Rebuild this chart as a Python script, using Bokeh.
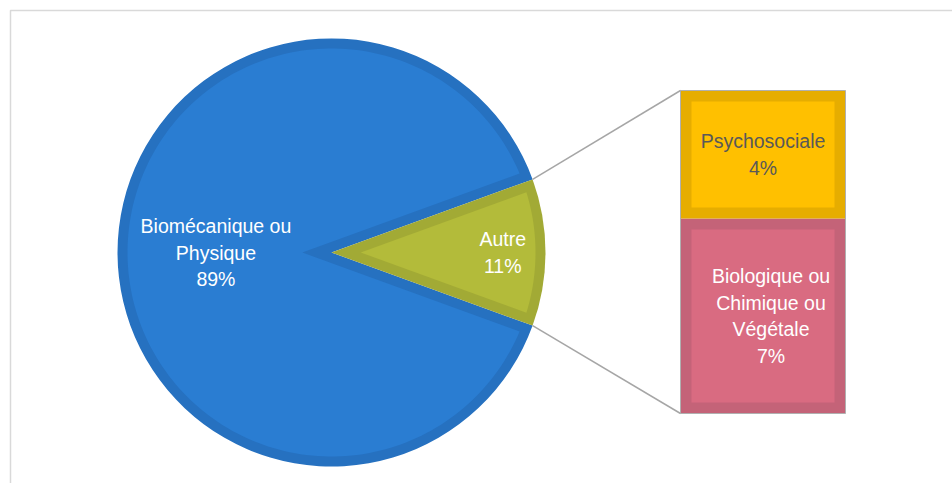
import numpy as np
from bokeh.plotting import figure
from bokeh.models import Range1d
from bokeh.core.properties import value
from bokeh.embed import file_html
from bokeh.resources import INLINE

# ---------------- data ----------------
main_label = "Biomécanique ou\nPhysique"
main_value = 88.9
other_label = "Autre"
detail_labels = ["Biologique ou\nChimique ou\nVégétale", "Psychosociale"]  # stacked bottom -> top
detail_values = [6.7, 4.4]

# ---------------- styles ----------------
W, H = 952, 483
FONT = "Liberation Sans"
FS = "19.5px"
LH = 26.7
blue_fill, blue_dark = "#2A7DD2", "#2671C0"
green_fill, green_dark = "#B3BB3A", "#A2AA35"
detail_fill = ["#D96B81", "#FFC000"]
detail_dark = ["#C46378", "#E6AD00"]
detail_text = ["white", "#595959"]
conn_color = "#A6A6A6"

p = figure(width=W, height=H, x_range=Range1d(0, W), y_range=Range1d(0, H),
           output_backend="svg", toolbar_location=None, min_border=0)
p.axis.visible = False
p.grid.visible = False
p.outline_line_color = None
p.background_fill_color = "white"
p.border_fill_color = "white"

# outer chart border
p.quad(left=[10], right=[W + 20], top=[H - 10], bottom=[-20], fill_color=None,
       line_color="#D9D9D9", line_width=1.5)

# ---------------- pie ----------------
cx, cy, R, d = 331.0, 231.0, 214.0, 10.0
other_value = sum(detail_values)
half = np.pi * other_value / 100.0
slices = [
    (main_label, main_value, half, 2 * np.pi - half, blue_fill, blue_dark, 0.54, "white"),
    (other_label, other_value, -half, half, green_fill, green_dark, 0.80, "white"),
]


def inset_poly(a1, a2):
    span = a2 - a1
    mid = (a1 + a2) / 2
    apex_dist = d / np.sin(span / 2)
    px_, py_ = cx + apex_dist * np.cos(mid), cy + apex_dist * np.sin(mid)
    s = np.sqrt((R - d) ** 2 - d ** 2)
    delta = np.arctan2(d, s)
    angs = np.linspace(a1 + delta, a2 - delta, 200)
    xs = [px_] + list(cx + (R - d) * np.cos(angs)) + [px_]
    ys = [py_] + list(cy + (R - d) * np.sin(angs)) + [py_]
    return xs, ys


def draw_label(lines, x, y, color):
    n = len(lines)
    for i, t in enumerate(lines):
        p.text(x=[x], y=[y + ((n - 1) / 2 - i) * LH], text=[t], text_align="center",
               text_baseline="middle", text_font=value(FONT), text_font_size=FS,
               text_color=color)


for lab, v, a1, a2, fc, dc, rf, tc in slices:
    p.wedge(x=[cx], y=[cy], radius=R, start_angle=a1, end_angle=a2,
            fill_color=dc, line_color=None)
    xs, ys = inset_poly(a1, a2)
    p.patch(xs, ys, fill_color=fc, line_color=None)

for lab, v, a1, a2, fc, dc, rf, tc in slices:
    mid = (a1 + a2) / 2
    draw_label(lab.split("\n") + [f"{round(v)}%"], cx + rf * R * np.cos(mid),
               cy + rf * R * np.sin(mid), tc)

# ---------------- stacked detail bar ----------------
bar_x, bar_w = 762.5, 165.0
bar_bottom_px, bar_top_px = 70.0, 393.0
k = other_value / (bar_top_px - bar_bottom_px)  # percent per pixel
start = -bar_bottom_px * k
p.extra_y_ranges = {"bar": Range1d(start, start + H * k)}


def pct_to_px(v):
    return (v - start) / k


bottoms = list(np.cumsum([0] + detail_values[:-1]))
tops = list(np.cumsum(detail_values))
db = 11.0
for lab, v, b, t, fc, dc, tc in zip(detail_labels, detail_values, bottoms, tops,
                                     detail_fill, detail_dark, detail_text):
    p.vbar(x=[bar_x], width=bar_w, bottom=[b], top=[t], y_range_name="bar",
           fill_color=dc, line_color=None)
    p.quad(left=[bar_x - bar_w / 2 + db], right=[bar_x + bar_w / 2 - db],
           bottom=[b + db * k], top=[t - db * k], y_range_name="bar",
           fill_color=fc, line_color=None)
    draw_label(lab.split("\n") + [f"{round(v)}%"], bar_x + (8 if "\n" in lab else 0),
               pct_to_px((b + t) / 2), tc)

p.vbar(x=[bar_x], width=bar_w, bottom=[0], top=[other_value], y_range_name="bar",
       fill_color=None, line_color="#B0B0B0", line_width=1)

# connector lines
p.segment(x0=[cx + R * np.cos(half), cx + R * np.cos(-half)],
          y0=[cy + R * np.sin(half), cy + R * np.sin(-half)],
          x1=[bar_x - bar_w / 2, bar_x - bar_w / 2],
          y1=[pct_to_px(other_value), pct_to_px(0)],
          line_color=conn_color, line_width=1.5)

open("out.html", "w").write(file_html(p, INLINE))
